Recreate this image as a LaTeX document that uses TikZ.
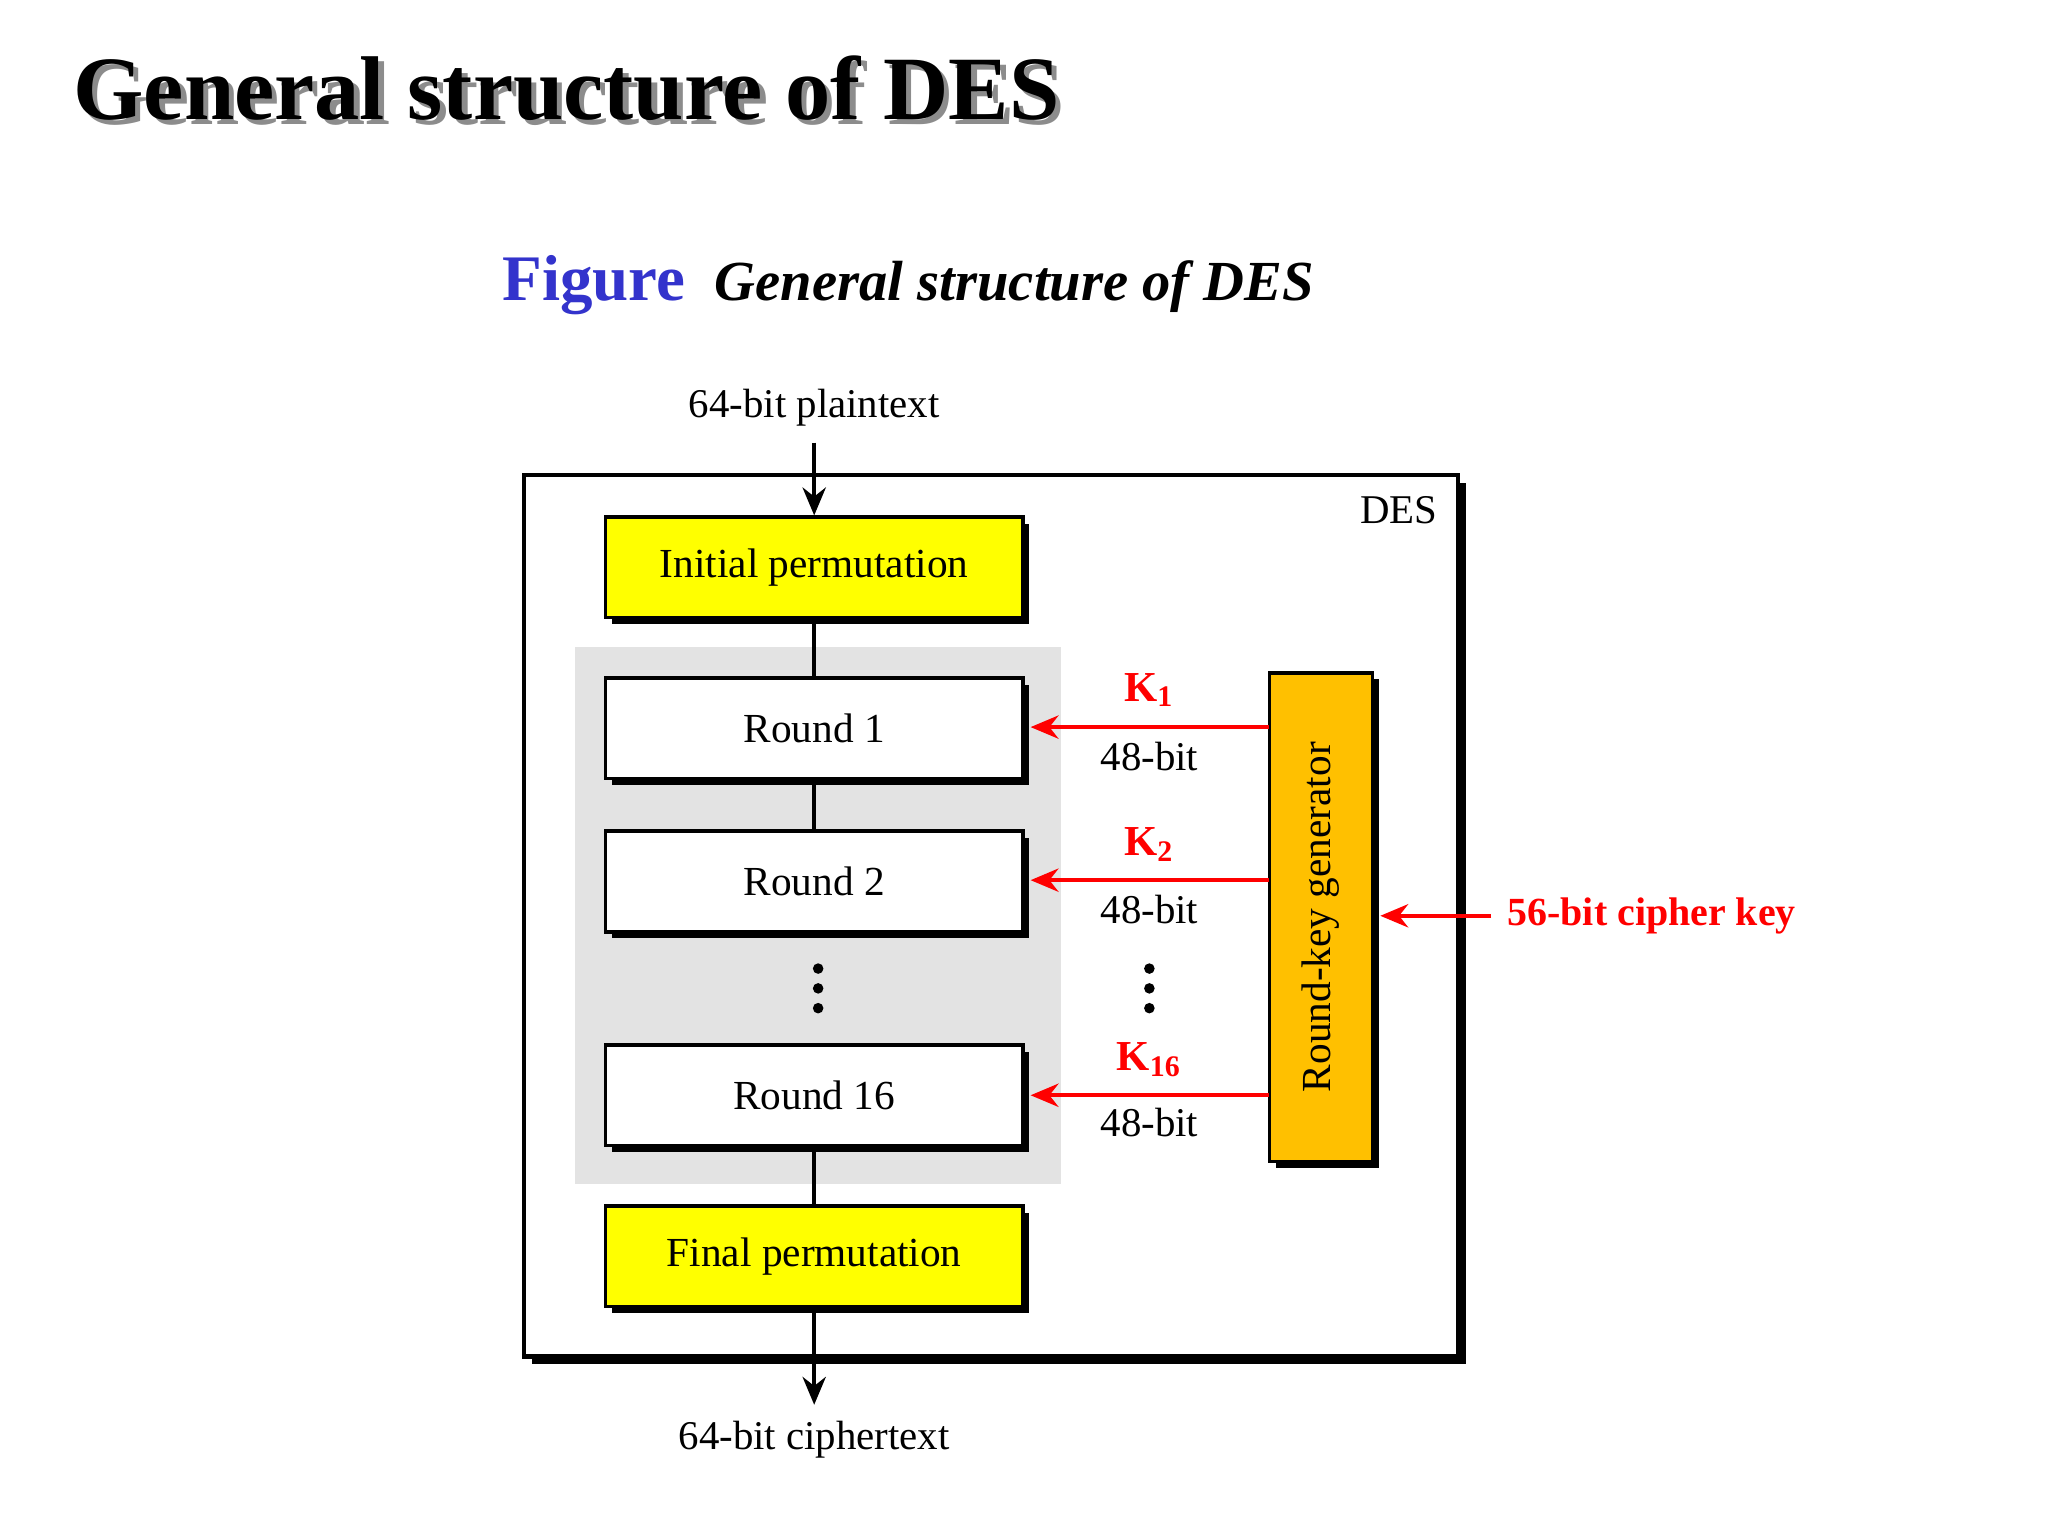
\documentclass[tikz,border=0pt]{standalone}
\usepackage{fontspec}
\setmainfont{Liberation Serif}
\usetikzlibrary{shadows,arrows.meta}
\definecolor{ylw}{RGB}{255,255,0}
\definecolor{org}{RGB}{255,192,0}
\definecolor{fblue}{RGB}{51,51,204}
\tikzset{
 sh/.style={drop shadow={shadow xshift=0.05cm,shadow yshift=-0.05cm,fill=black,opacity=1}},
 blk/.style={draw=black,line width=0.8pt,minimum width=3.16cm,minimum height=0.76cm,inner sep=0pt,font=\fontsize{8.9}{11}\selectfont,sh},
 lbl/.style={font=\fontsize{8.8}{11}\selectfont},
 klbl/.style={font=\bfseries\fontsize{9.2}{11}\selectfont,text=red},
 rarr/.style={draw=red,line width=0.9pt,-{Stealth[length=6pt,width=5pt]}},
 barr/.style={draw=black,line width=0.9pt,-{Stealth[length=6pt,width=5pt]}},
 conn/.style={draw=black,line width=0.8pt},
 dotc/.style={circle,fill=black,inner sep=0pt,minimum size=0.08cm}
}
\begin{document}
\begin{tikzpicture}[x=0.01cm,y=-0.01cm]
\useasboundingbox[fill=white] (0,0) rectangle (1552,1164);
% title
\node[anchor=west,inner sep=0pt,font=\bfseries\fontsize{19.5}{22}\selectfont,text=black!45] at (59,71) {General structure of DES};
\node[anchor=west,inner sep=0pt,font=\bfseries\fontsize{19.5}{22}\selectfont] (title) at (55,67) {General structure of DES};
\node[anchor=base west,inner sep=0pt,font=\bfseries\fontsize{14}{16}\selectfont,text=fblue] (fig) at (380,228) {Figure};
\node[anchor=base west,inner sep=0pt,font=\bfseries\itshape\fontsize{12.2}{14}\selectfont] (figt) at (541,228) {General structure of DES};
% outer box
\fill[black] (403,366) rectangle (1111,1034);
\draw[fill=white,line width=0.9pt] (397,360) rectangle (1105,1028);
\node[lbl] (des) at (1060,387) {DES};
\fill[black!11] (436,490) rectangle (804,897);
% blocks
\node[blk,fill=ylw] (ip) at (617,430) {Initial permutation};
\node[blk,fill=white] (r1) at (617,552) {Round 1};
\node[blk,fill=white] (r2) at (617,668) {Round 2};
\node[blk,fill=white] (r16) at (617,830) {Round 16};
\node[blk,fill=ylw] (fp) at (617,952) {Final permutation};
\node[draw,line width=0.8pt,fill=org,minimum width=3.70cm,minimum height=0.78cm,inner sep=0pt,rotate=90,sh,font=\fontsize{8.9}{11}\selectfont] (rk) at (1001,695) {Round-key generator};
\draw[conn] (ip) -- (r1);
\draw[conn] (r1) -- (r2);
\draw[conn] (r16) -- (fp);
\node[dotc] (d1a) at (620,734) {}; \node[dotc] (d1b) at (620,749) {}; \node[dotc] (d1c) at (620,764) {};
\node[dotc] (d2a) at (871,734) {}; \node[dotc] (d2b) at (871,749) {}; \node[dotc] (d2c) at (871,764) {};
% in/out
\node[lbl] (pt) at (617,309) {64-bit plaintext};
\draw[barr] (pt.south) -- (ip.north);
\node[lbl] (ct) at (617,1091) {64-bit ciphertext};
\draw[barr] (fp.south) -- (ct.north);
% keys
\coordinate (k1s) at (962,551); \coordinate (k1e) at (781,551);
\coordinate (k2s) at (962,667); \coordinate (k2e) at (781,667);
\coordinate (k3s) at (962,830); \coordinate (k3e) at (781,830);
\draw[rarr] (k1s) -- (k1e);
\draw[rarr] (k2s) -- (k2e);
\draw[rarr] (k3s) -- (k3e);
\node[klbl] (K1) at (871,523) {K\textsubscript{1}};
\node[klbl] (K2) at (871,640) {K\textsubscript{2}};
\node[klbl] (K16) at (871,803) {K\textsubscript{16}};
\node[lbl] (b1) at (871,573) {48-bit};
\node[lbl] (b2) at (871,689) {48-bit};
\node[lbl] (b3) at (871,851) {48-bit};
\node[klbl,anchor=west,font=\bfseries\fontsize{8.6}{11}\selectfont] (ck) at (1130,694) {56-bit cipher key};
\coordinate (rke) at (1046,694);
\draw[rarr] (ck.west) -- (rke);
\end{tikzpicture}
\end{document}
